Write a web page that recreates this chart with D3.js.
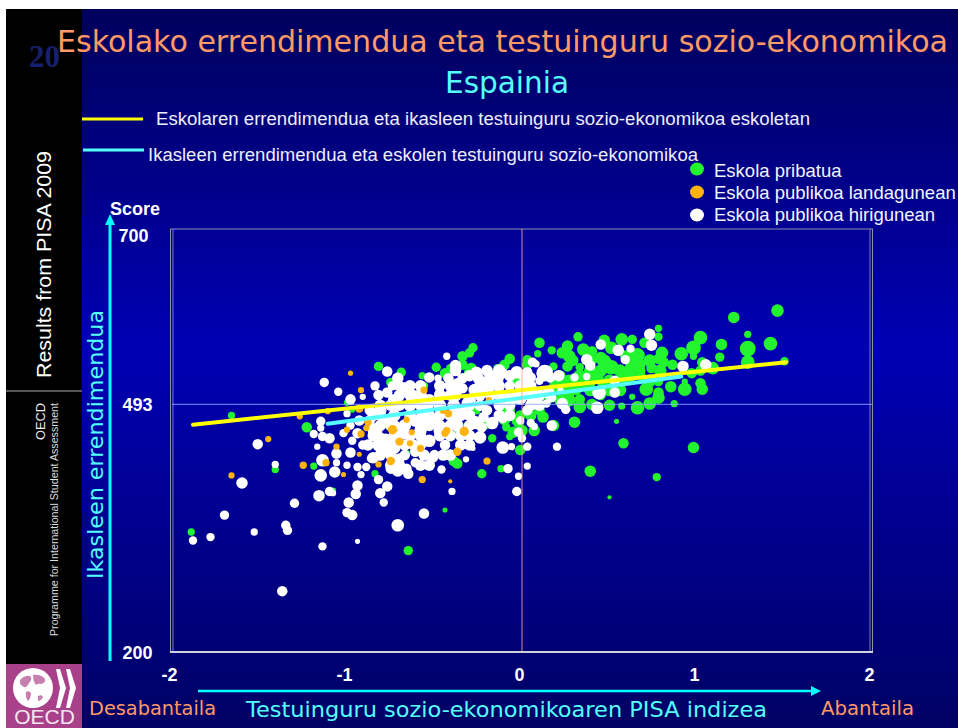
<!DOCTYPE html>
<html>
<head>
<meta charset="utf-8">
<title>Eskolako errendimendua</title>
<script src="https://d3js.org/d3.v7.min.js"></script>
<style>
  html, body { margin: 0; padding: 0; background: #fff; overflow: hidden; }
  svg { display: block; }
  text { font-family: "Liberation Sans", Arial, sans-serif; }
  .comic { font-family: "DejaVu Sans", sans-serif; }
</style>
</head>
<body>
<svg width="958" height="728"></svg>
<script>
// each row: index, score, school size
var privateSchools = [
  [-1.66,480,12],[-1.23,466,25],[-0.82,538,20],[-0.69,531,20],[-0.75,519,20],[-0.57,527,12],[-0.56,515,16],[-0.49,537,20],
  [-0.34,550,25],[-0.30,554,20],[-0.28,560,20],[-0.07,547,25],[-1.41,416,12],[-1.19,420,12],[-0.84,411,12],[-0.66,435,12],
  [-0.57,434,9],[-0.43,447,9],[-0.39,426,25],[-0.37,423,25],[-0.23,411,20],[-0.12,417,12],[-0.17,453,16],[-0.09,466,16],
  [-0.07,455,12],[-1.08,391,9],[-0.97,487,9],[-1.00,495,9],[-0.31,468,16],[-0.37,461,9],[-0.03,474,25],[-0.07,486,25],
  [-0.13,492,25],[-0.26,486,16],[-0.29,536,25],[-0.14,536,16],[-0.41,536,16],[-0.01,439,16],
  [1.46,604,36],[1.21,596,30],[1.29,576,12],[1.42,565,42],[1.29,559,56],[1.29,543,42],[1.50,544,16],[1.14,564,30],
  [1.02,572,42],[0.98,560,49],[0.91,553,42],[1.13,549,20],[0.98,550,12],[1.03,543,25],[1.09,536,36],[0.97,530,25],
  [1.02,533,25],[1.02,518,25],[1.03,511,30],[0.93,511,42],[0.93,520,9],[0.85,514,30],[0.78,507,25],[0.78,501,36],
  [0.71,511,42],[0.63,502,9],[0.73,494,36],[0.66,489,42],[0.57,491,12],[0.87,494,12],[0.50,492,30],[0.40,493,30],
  [0.33,499,25],[0.27,506,25],[0.31,510,25],[0.78,583,12],[0.78,573,16],[0.70,566,25],[0.80,554,36],[0.78,547,25],
  [0.81,543,25],[0.86,540,25],[0.66,551,49],[0.63,537,49],[0.74,536,25],[0.69,525,16],[0.78,520,20],[0.58,525,36],
  [0.63,570,20],[0.57,570,36],[0.51,560,36],[0.47,569,30],[0.59,551,25],[0.47,544,42],[0.51,537,49],[0.45,533,36],
  [0.40,556,25],[0.35,558,36],[0.32,573,20],[0.26,562,30],[0.23,554,30],[0.17,557,16],[0.10,566,25],[0.09,553,12],
  [0.03,546,20],[0.18,538,16],[0.26,538,25],[0.29,545,30],[0.33,537,16],[0.43,525,36],[0.46,518,25],[0.26,510,36],
  [0.16,501,25],[0.11,502,16],[0.30,472,30],[0.54,473,6],[0.58,447,25],[0.98,442,30],[0.39,414,30],[0.77,407,16],
  [0.18,468,30],[0.07,462,30],[-0.02,472,30],[-0.01,439,25],[0.50,383,4],[-0.65,320,20],[-1.89,342,12],[-0.44,368,6],
  [0.19,515,36],[0.39,510,36],[0.22,527,25],[0.45,504,25],[0.33,515,36],[0.10,486,25],[-0.01,480,25],[-0.10,486,25],[-0.06,504,25],
  [0.22,498,36],[0.27,498,36],[0.33,490,36],[0.22,521,36],[0.27,521,36],[0.39,521,36],[0.39,533,36],[0.33,527,36],
  [0.50,521,36],[0.56,510,36],[0.56,533,36],[0.50,510,36],[0.62,527,36],[0.67,533,36],[0.73,521,36],[0.73,545,36],
  [0.62,551,36],[0.67,540,36],[0.79,533,36],[0.39,545,36],[0.45,548,36],[0.27,550,36],
  [-0.10,475,30],[0.00,462,30],[0.05,480,30],[-0.05,460,30],[-0.20,470,25],[-0.44,530,25],[-0.30,530,30],[-0.34,540,25],
  [-0.10,540,25],[0.03,540,25],[-0.03,520,30],[0.08,500,30],[0.12,478,30]
];
var urbanSchools = [
  [-1.13,519,20],[-1.05,508,16],[-0.98,499,25],[-0.98,497,16],[-0.91,502,9],[-0.84,515,20],[-0.77,532,25],[-0.82,504,25],
  [-0.77,507,25],[-0.71,524,30],[-0.67,513,25],[-0.70,515,25],[-0.74,515,20],[-0.62,504,25],[-0.53,525,25],[-0.48,524,12],
  [-0.43,550,12],[-0.38,539,30],[-0.38,533,30],[-0.42,524,25],[-0.37,518,25],[-0.34,524,25],[-0.39,513,36],[-0.26,531,30],
  [-0.25,524,30],[-0.20,533,30],[-0.13,533,36],[-0.14,524,36],[-0.11,530,25],[-0.03,531,36],[0.03,530,9],[-0.20,521,25],
  [-0.34,512,25],[-0.47,506,25],[0.06,510,25],[0.03,486,25],[-0.01,500,36],[-0.07,498,36],[-0.13,507,25],[-0.20,512,25],
  [-0.20,486,25],[-0.17,471,36],[-0.22,478,25],[-0.26,471,36],[-0.23,466,25],[-0.11,476,20],[-0.01,474,16],[-0.54,492,36],
  [-0.35,484,36],[-0.31,494,36],[-0.39,492,36],[-0.49,472,36],[-0.37,468,36],[-0.47,492,36],[-0.57,478,36],
  [-1.15,473,20],[-1.15,465,12],[-1.19,458,16],[-1.14,455,20],[-1.10,453,25],[-1.17,443,9],[-1.06,435,25],[-1.06,424,12],
  [-1.14,427,36],[-1.15,409,36],[-1.07,413,30],[-1.00,421,12],[-0.94,419,16],[-0.89,419,16],[-0.92,410,12],[-0.98,436,25],
  [-0.91,445,20],[-0.94,459,25],[-1.02,459,16],[-0.85,430,30],[-0.82,404,20],[-0.77,396,25],[-0.71,415,36],[-0.65,411,25],
  [-0.61,424,20],[-0.51,430,25],[-0.46,416,16],[-0.40,390,12],[-0.32,428,9],[-0.28,441,6],[-0.11,442,36],[-0.06,443,12],
  [-0.08,417,20],[-0.03,390,20],[-0.02,408,12],[-0.24,454,36],[-0.27,472,36],[-0.94,397,25],[-0.95,387,25],[-0.81,388,25],
  [-1.16,385,30],[-1.10,390,20],[-1.08,388,9],[-1.60,400,30],[-1.51,446,25],[-1.41,422,12],[-0.99,377,25],[-1.00,365,20],
  [-0.97,362,25],[-0.79,377,16],[-1.70,362,20],[-1.78,336,16],[-1.88,332,16],[-1.53,342,12],[-1.35,350,20],[-1.34,344,20],
  [-1.30,376,20],[-1.37,272,25],[-1.14,325,16],[-0.94,331,6],[-0.71,350,36],[-0.56,364,25],
  [-0.84,462,49],[-0.78,474,36],[-0.73,480,36],[-0.78,450,49],[-0.82,445,36],[-0.73,442,36],[-0.67,468,36],[-0.61,474,36],
  [-0.55,486,36],[-0.50,474,36],[-0.53,498,36],[-0.38,504,36],[-0.30,498,36],[-0.58,462,36],[-0.53,450,36],[-0.47,462,36],
  [-0.38,474,36],[-0.44,445,25],[-0.50,433,25],[-0.67,433,25],[-0.75,436,25],[-0.81,486,36],[-0.87,486,25],[-0.73,498,36],
  [-0.64,492,36],[-0.58,504,36],[-0.27,510,36],[-0.07,515,25],[-0.70,429,25],[-0.66,417,25],[-0.75,417,25],[-0.86,429,20],
  [-0.79,439,25],[-0.61,437,25],[-0.81,454,25],[-0.68,459,36],[-0.97,450,16],[-1.00,482,12],[-0.93,474,25],[-0.87,474,25],[-0.98,468,16],
  [0.73,576,30],[0.74,563,30],[0.62,559,16],[0.55,557,30],[0.45,564,25],[0.59,546,20],[0.37,546,30],[0.39,539,25],
  [0.30,525,16],[0.37,526,12],[0.53,521,25],[0.44,507,42],[0.53,507,25],[0.43,489,36],[0.23,494,30],[0.25,487,20],
  [0.22,510,9],[0.15,507,36],[0.17,501,20],[0.14,494,16],[0.13,530,64],[0.21,527,30],[0.16,525,25],[0.06,543,20],
  [0.08,541,12],[0.03,531,25],[0.05,525,25],[0.92,538,30],[1.05,540,30],[0.05,471,16],[0.07,467,12],[0.17,468,25],
  [-0.02,460,20],[0.00,453,16],[0.03,443,16],[0.20,443,16],[0.03,420,12],[0.01,510,36],[0.06,501,36],[-0.03,501,36],
  [-0.10,501,36],[0.10,521,16],[0.03,515,36],
  [-0.64,515,30],[-0.58,515,30],[-0.47,515,30],[-0.41,515,30],[-0.24,515,30],[-0.18,515,30],[-0.13,515,30],[-0.01,515,30],[0.05,515,30],
  [-0.30,527,30],[-0.18,527,30],[-0.07,527,30],[0.01,527,30],
  [-0.70,504,30],[-0.64,504,30],[-0.47,504,30],[-0.41,504,30],[-0.24,504,30],[-0.18,504,30],[-0.13,504,30],[-0.07,504,30],[0.01,504,30],[0.10,504,30],
  [-0.81,492,30],[-0.75,492,30],[-0.70,492,30],[-0.58,492,30],[-0.30,492,30],[-0.24,492,30],[-0.13,492,30],[-0.07,492,30],[0.05,492,30],[0.10,492,30],
  [-0.85,480,30],[-0.81,480,30],[-0.64,480,30],[-0.53,480,30],[-0.47,480,30],[-0.41,480,30],[-0.35,480,30],[-0.30,480,30],[-0.13,480,30],[-0.07,480,30],
  [-0.81,468,30],[-0.75,468,30],[-0.73,468,30],[-0.58,468,30],[-0.53,468,30],[-0.47,468,30],[-0.41,468,30],[-0.30,468,30],
  [-0.85,456,30],[-0.73,456,30],[-0.64,456,30],[-0.58,456,30],[-0.47,456,30],[-0.41,456,30],[-0.35,456,30],[-0.30,456,30],
  [-0.88,445,30],[-0.75,445,30],[-0.67,445,30],[-0.62,445,30],[-0.58,445,30],[-0.35,445,30],[-0.30,445,30],
  [-0.81,433,30],[-0.75,433,30],[-0.56,433,30],[-0.45,433,30],[-0.41,433,30],
  [-0.75,421,30],[-0.70,421,30],[-0.58,421,30],[-0.53,421,30]
];
var ruralSchools = [
  [-0.98,530,6],[-0.92,510,9],[-1.27,479,9],[-1.45,452,9],[-1.66,409,9],[-1.25,421,12],[-1.06,443,9],[-1.12,424,12],
  [-1.02,410,6],[-1.00,463,9],[-0.93,434,6],[-0.92,458,12],[-0.89,465,9],[-0.88,472,12],[-0.93,488,16],[-1.11,485,9],
  [-0.82,422,9],[-0.75,426,16],[-0.74,463,20],[-0.70,449,16],[-0.64,447,9],[-0.63,460,9],[-0.66,475,9],[-0.56,510,12],
  [-0.58,441,12],[-0.57,404,12],[-0.41,402,4],[-0.45,486,12],[-0.42,482,12],[-0.43,462,12],[-0.44,459,12],[-0.33,461,20],
  [-0.37,437,16],[-0.20,426,12],[-0.19,498,9]
];
var schoolLine = [[-1.88,469],[1.51,543]];
var studentLine = [[-1.11,470],[0.91,526]];
var xTicks = [-2,-1,0,1,2];
var yTicks = [200,493,700];
var legendNames = ["Eskola pribatua","Eskola publikoa landagunean","Eskola publikoa hirigunean"];
var lineNames = ["Eskolaren errendimendua eta ikasleen testuinguru sozio-ekonomikoa eskoletan",
  "Ikasleen errendimendua eta eskolen testuinguru sozio-ekonomikoa"];

var green = "#22f52e", orange = "#ffb30f", white = "#ffffff", yellow = "#ffff00", cyan = "#55ffff", peach = "#ff9a66";

var svg = d3.select("svg");

// slide background
var grad = svg.append("defs").append("linearGradient")
    .attr("id", "bg").attr("x1", 0).attr("y1", 0).attr("x2", 0).attr("y2", 1);
grad.append("stop").attr("offset", 0).attr("stop-color", "#00005c");
grad.append("stop").attr("offset", 0.47).attr("stop-color", "#0000b4");
grad.append("stop").attr("offset", 1).attr("stop-color", "#000064");

svg.append("rect").attr("x", 6).attr("y", 9).attr("width", 952).attr("height", 719).attr("fill", "url(#bg)");
svg.append("rect").attr("x", 6).attr("y", 9).attr("width", 76).attr("height", 655).attr("fill", "#000");
svg.append("line").attr("x1", 6).attr("x2", 82).attr("y1", 391).attr("y2", 391).attr("stroke", "#aaa").attr("stroke-width", 1);

svg.append("text").attr("x", 29).attr("y", 67)
    .style("font-family", "'Liberation Serif', serif").style("font-weight", "bold")
    .style("font-size", "31px").attr("fill", "#16206e").text("20");

function vertical(txt, x, y, size, fill, len, cls) {
  var t = svg.append("text")
      .attr("transform", "translate(" + x + "," + y + ") rotate(-90)")
      .style("font-size", size + "px").attr("fill", fill)
      .attr("textLength", len).attr("lengthAdjust", "spacingAndGlyphs").text(txt);
  if (cls) t.attr("class", cls);
}
vertical("Results from PISA 2009", 51, 378, 21, "#fff", 227);
vertical("OECD", 45, 440, 12.5, "#eee", 37);
vertical("Programme for International Student Assessment", 58, 636, 10.5, "#ddd", 233);

// oecd logo
var logo = svg.append("g");
logo.append("rect").attr("x", 6).attr("y", 664).attr("width", 76).attr("height", 64).attr("fill", "#a8408a");
logo.append("circle").attr("cx", 33).attr("cy", 688).attr("r", 20).attr("fill", "#fff");
logo.append("path").attr("fill", "#c77fb0")
    .attr("d", "M20 680 q5 -5 10 -4 q3 3 -1 7 q-2 5 -5 4 q-5 -2 -4 -7z M33 675 q8 -1 12 4 q1 4 -4 5 q-3 -1 -5 1 q-3 -4 -3 -10z M26 692 q3 -2 5 1 q0 5 -3 8 q-3 -4 -2 -9z M38 696 q4 -2 5 1 q-2 4 -5 4z");
[56, 66].forEach(function(left) {
  logo.append("path").attr("fill", "#fff")
      .attr("d", "M" + left + " 669 L" + (left + 4) + " 669 L" + (left + 10) + " 688 L" + (left + 4) + " 708 L" + left + " 708 L" + (left + 4) + " 688z");
});
logo.append("text").attr("x", 44.5).attr("y", 723.5).attr("text-anchor", "middle")
    .style("font-size", "21px").attr("fill", "#f6e6f0").text("OECD");

// titles
svg.append("text").attr("class", "comic").attr("x", 57).attr("y", 52).style("font-size", "30px").attr("fill", peach)
    .attr("textLength", 891).attr("lengthAdjust", "spacingAndGlyphs")
    .text("Eskolako errendimendua eta testuinguru sozio-ekonomikoa");
svg.append("text").attr("class", "comic").attr("x", 445).attr("y", 93).style("font-size", "30px").attr("fill", cyan)
    .attr("textLength", 124).attr("lengthAdjust", "spacingAndGlyphs").text("Espainia");

// line key
svg.append("line").attr("x1", 82).attr("x2", 143).attr("y1", 119).attr("y2", 119).attr("stroke", yellow).attr("stroke-width", 3);
svg.append("line").attr("x1", 83).attr("x2", 144).attr("y1", 150).attr("y2", 150).attr("stroke", cyan).attr("stroke-width", 3);
svg.append("text").attr("x", 156).attr("y", 125).style("font-size", "17.5px").attr("fill", "#eeeeff")
    .attr("textLength", 654).attr("lengthAdjust", "spacingAndGlyphs").text(lineNames[0]);
svg.append("text").attr("x", 148).attr("y", 161).style("font-size", "17.5px").attr("fill", "#eeeeff")
    .attr("textLength", 550).attr("lengthAdjust", "spacingAndGlyphs").text(lineNames[1]);

// school key
var keyColors = [green, orange, white];
var keyY = d3.scaleLinear().domain([0, 2]).range([169, 215]);
var keyTextY = d3.scaleLinear().domain([0, 2]).range([177, 221]);
var key = svg.append("g").selectAll("g").data(legendNames).enter().append("g");
key.append("ellipse").attr("cx", 697).attr("cy", function(d, i) { return keyY(i); })
    .attr("rx", 7).attr("ry", 6.5).attr("fill", function(d, i) { return keyColors[i]; });
key.append("text").attr("x", 714).attr("y", function(d, i) { return keyTextY(i); })
    .style("font-size", "18.5px").attr("fill", "#f4f4ff").text(function(d) { return d; });

// scales
var x = d3.scaleLinear().domain([-2, 2]).range([172, 872]);
var y = d3.scaleLinear().domain([200, 700]).range([652, 229.5]);
var r = d3.scaleSqrt().domain([0, 100]).range([0, 10.5]);

// frame
svg.append("rect").attr("x", 170.5).attr("y", 229).attr("width", 702).attr("height", 423)
    .attr("fill", "none").attr("stroke", "#8f8fa8").attr("stroke-width", 1);
svg.append("line").attr("x1", 173).attr("x2", 173).attr("y1", 229).attr("y2", 652).attr("stroke", "#7f7fa0").attr("stroke-width", 1);
svg.append("line").attr("x1", 870).attr("x2", 870).attr("y1", 229).attr("y2", 652).attr("stroke", "#7f7fa0").attr("stroke-width", 1);
svg.append("line").attr("x1", 170).attr("x2", 873).attr("y1", 652).attr("y2", 652).attr("stroke", "#d0d0d8").attr("stroke-width", 2);

function drawSchools(rows, fill) {
  svg.append("g").selectAll("circle").data(rows).enter().append("circle")
      .attr("cx", function(d) { return x(d[0]); })
      .attr("cy", function(d) { return y(d[1]); })
      .attr("r", function(d) { return r(d[2]); })
      .attr("fill", fill);
}
drawSchools(privateSchools, green);
drawSchools(urbanSchools, white);
drawSchools(ruralSchools, orange);

var lineGen = d3.line().x(function(d) { return x(d[0]); }).y(function(d) { return y(d[1]); });
svg.append("path").attr("d", lineGen(schoolLine)).attr("stroke", yellow).attr("stroke-width", 4).attr("stroke-linecap", "round").attr("fill", "none");
svg.append("path").attr("d", lineGen(studentLine)).attr("stroke", cyan).attr("stroke-width", 4).attr("stroke-linecap", "round").attr("fill", "none");

// mean lines sit over the points
svg.append("line").attr("x1", 172).attr("x2", 872).attr("y1", y(493)).attr("y2", y(493))
    .attr("stroke", "#8fa8ff").attr("stroke-opacity", 0.7).attr("stroke-width", 1.2);
svg.append("line").attr("x1", x(0)).attr("x2", x(0)).attr("y1", 229).attr("y2", 652)
    .attr("stroke", "#ffa888").attr("stroke-opacity", 0.7).attr("stroke-width", 1.2);

// axes
var xAxis = svg.append("g").attr("transform", "translate(-3,668)")
    .call(d3.axisBottom(x).tickValues(xTicks).tickSize(0).tickPadding(0).tickFormat(String));
var yAxis = svg.append("g").attr("transform", "translate(152.5,0)")
    .call(d3.axisLeft(y).tickValues(yTicks).tickSize(0).tickPadding(0).tickFormat(String));
xAxis.select(".domain").remove();
yAxis.select(".domain").remove();
svg.selectAll(".tick text").attr("fill", "#fff")
    .style("font-family", "'Liberation Sans', Arial, sans-serif").style("font-weight", "bold").style("font-size", "18px");
yAxis.selectAll(".tick text").attr("dy", "0.36em");
// the 700 label sits lower and further left than its gridline
yAxis.selectAll(".tick text").filter(function(d) { return d === 700; }).attr("dx", -4).attr("dy", "0.68em");

svg.append("text").attr("x", 110).attr("y", 215).style("font-weight", "bold").style("font-size", "18px").attr("fill", "#fff").text("Score");

// axis arrows
svg.append("line").attr("x1", 110).attr("x2", 110).attr("y1", 661).attr("y2", 224).attr("stroke", "#00ffff").attr("stroke-width", 3);
svg.append("path").attr("d", "M105 225 L110 214 L115 225z").attr("fill", "#00ffff");
svg.append("line").attr("x1", 198).attr("x2", 812).attr("y1", 691).attr("y2", 691).attr("stroke", "#00ffff").attr("stroke-width", 2.5);
svg.append("path").attr("d", "M811 686 L821 691 L811 696z").attr("fill", "#00ffff");

vertical("Ikasleen errendimendua", 103, 579, 22, cyan, 269, "comic");
svg.append("text").attr("class", "comic").attr("x", 246).attr("y", 717).style("font-size", "21px").attr("fill", cyan)
    .attr("textLength", 521).attr("lengthAdjust", "spacingAndGlyphs").text("Testuinguru sozio-ekonomikoaren PISA indizea");
svg.append("text").attr("class", "comic").attr("x", 89).attr("y", 715).style("font-size", "19px").attr("fill", peach)
    .attr("textLength", 127).attr("lengthAdjust", "spacingAndGlyphs").text("Desabantaila");
svg.append("text").attr("class", "comic").attr("x", 821).attr("y", 715).style("font-size", "19px").attr("fill", peach)
    .attr("textLength", 93).attr("lengthAdjust", "spacingAndGlyphs").text("Abantaila");
</script>
</body>
</html>
